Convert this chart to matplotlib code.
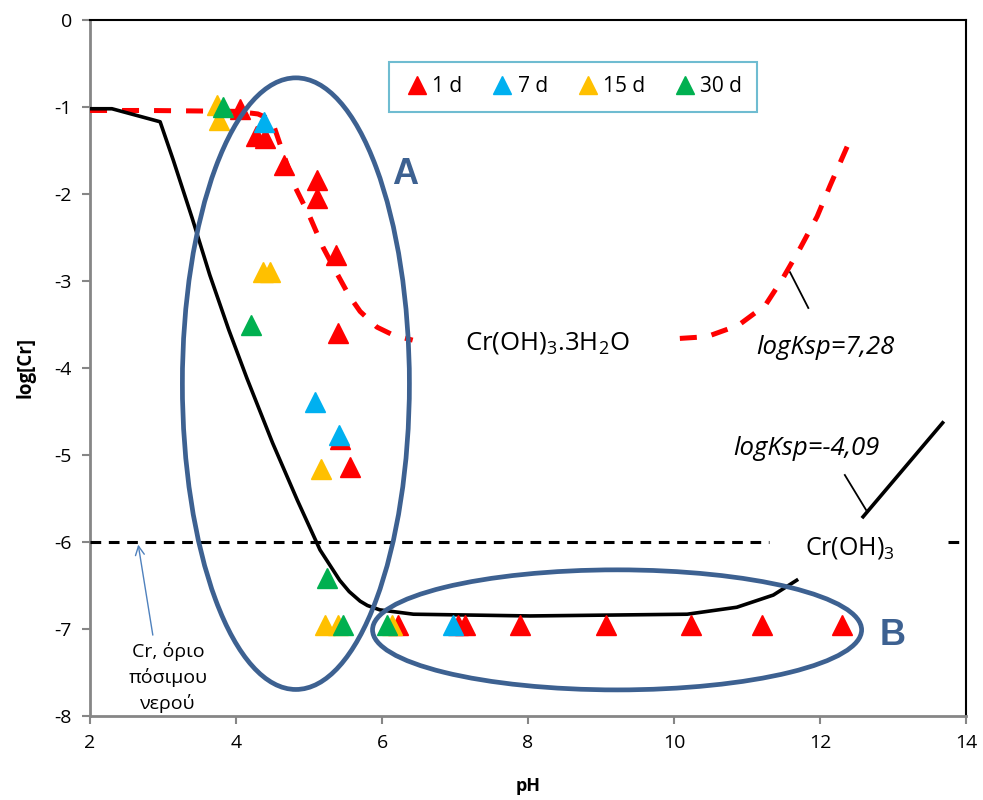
import numpy as np
import matplotlib.pyplot as plt
from matplotlib.patches import Ellipse

plt.rcParams['font.family'] = ['Open Sans', 'DejaVu Sans']
plt.rcParams['mathtext.fontset'] = 'custom'
plt.rcParams['mathtext.rm'] = 'Open Sans'
plt.rcParams['axes.unicode_minus'] = False

# ---------------------------------------------------------------------------
# Data
# ---------------------------------------------------------------------------
# 1 d (red)
ph_1d = [4.05, 4.28, 4.40, 4.66, 5.11, 5.11, 5.37, 5.40, 5.43, 5.56,
         6.22, 7.04, 7.14, 7.89, 9.07, 10.23, 11.20, 12.30]
cr_1d = [-1.02, -1.33, -1.36, -1.67, -1.84, -2.05, -2.70, -3.60, -4.82, -5.14,
         -6.95, -6.95, -6.95, -6.95, -6.95, -6.95, -6.95, -6.95]
# 7 d (blue)
ph_7d = [4.38, 5.08, 5.41, 6.97]
cr_7d = [-1.17, -4.39, -4.77, -6.95]
# 15 d (yellow)
ph_15d = [3.74, 3.76, 4.37, 4.47, 5.16, 5.22, 5.40, 6.14]
cr_15d = [-0.98, -1.15, -2.90, -2.90, -5.16, -6.95, -6.95, -6.95]
# 30 d (green)
ph_30d = [3.82, 4.21, 5.25, 5.47, 6.07]
cr_30d = [-1.00, -3.50, -6.41, -6.95, -6.95]

# Cr(OH)3.3H2O solubility curve (red dashed), two visible parts
hyd_ph_a = [2.0, 2.8, 4.0, 4.30, 4.49, 4.64, 4.81, 5.01, 5.19, 5.38, 5.55,
            5.70, 5.93, 6.15, 6.42]
hyd_cr_a = [-1.04, -1.04, -1.05, -1.08, -1.15, -1.52, -1.92, -2.26, -2.61, -2.91,
            -3.17, -3.35, -3.53, -3.62, -3.68]
hyd_ph_b = [10.08, 10.45, 10.88, 11.25, 11.49, 11.73, 11.96, 12.14, 12.38]
hyd_cr_b = [-3.66, -3.64, -3.51, -3.28, -2.97, -2.62, -2.26, -1.90, -1.44]

# Cr(OH)3 solubility curve (black), two visible parts
oh_ph_a = [2.0, 2.3, 2.96, 3.14, 3.40, 3.64, 3.90, 4.15, 4.50, 4.84, 5.15,
           5.42, 5.55, 5.70, 5.80, 5.97, 6.43, 8.03, 10.18, 10.86, 11.36, 11.68]
oh_cr_a = [-1.02, -1.02, -1.17, -1.61, -2.28, -2.93, -3.56, -4.12, -4.86, -5.52,
           -6.09, -6.44, -6.57, -6.68, -6.73, -6.78, -6.83, -6.85, -6.83, -6.75,
           -6.61, -6.44]
oh_ph_b = [12.59, 13.68]
oh_cr_b = [-5.71, -4.63]

# drinking water limit
limit_cr = -6.0

# ---------------------------------------------------------------------------
fig = plt.figure(figsize=(9.83, 8.0), dpi=100)
ax = fig.add_axes([0.0916, 0.105, 0.8911, 0.870])

blue_dark = '#3D6191'

red_dash = (0, (3.4, 3.0))
ax.plot(hyd_ph_a, hyd_cr_a, color='red', lw=3.6, ls=red_dash, zorder=3)
ax.plot(hyd_ph_b, hyd_cr_b, color='red', lw=3.6, ls=red_dash, zorder=3)
ax.plot(oh_ph_a, oh_cr_a, color='black', lw=2.6, zorder=3)
ax.plot(oh_ph_b, oh_cr_b, color='black', lw=2.6, zorder=3)
ax.plot([2.0, 11.3], [limit_cr, limit_cr], color='black', lw=2.2,
        ls=(0, (3.5, 2.5)), zorder=3)
ax.plot([13.75, 14.0], [limit_cr, limit_cr], color='black', lw=2.2,
        ls=(0, (3.5, 2.5)), zorder=3)

ms = 14
ax.plot(ph_1d, cr_1d, '^', color='#FF0000', ms=ms, ls='none', label='1 d', zorder=4)
ax.plot(ph_7d, cr_7d, '^', color='#00B0F0', ms=ms, ls='none', label='7 d', zorder=5)
ax.plot(ph_15d, cr_15d, '^', color='#FFC000', ms=ms, ls='none', label='15 d', zorder=5)
ax.plot(ph_30d, cr_30d, '^', color='#00B050', ms=ms, ls='none', label='30 d', zorder=6)

# grouping ellipses
ax.add_patch(Ellipse((4.82, -4.18), 3.11, 7.03, fill=False, ec=blue_dark, lw=3.4, zorder=7))
ax.add_patch(Ellipse((9.22, -7.01), 6.70, 1.38, fill=False, ec=blue_dark, lw=3.4, zorder=7))
ax.text(6.32, -1.78, 'A', color=blue_dark, fontsize=26, fontweight='bold',
        ha='center', va='center', family=['Liberation Sans'])
ax.text(13.0, -7.08, 'B', color=blue_dark, fontsize=26, fontweight='bold',
        ha='center', va='center', family=['Liberation Sans'])

# labels
ax.text(8.27, -3.71, r'Cr(OH)$_3$.3H$_2$O', fontsize=18.5, ha='center', va='center')
ax.text(12.41, -6.07, r'Cr(OH)$_3$', fontsize=18, ha='center', va='center')

ax.plot([11.59, 11.84], [-2.90, -3.31], color='black', lw=1.3, zorder=3)
ax.text(12.08, -3.76, 'logKsp=7,28', fontsize=18.5, style='italic',
        ha='center', va='center')
ax.plot([12.34, 12.63], [-5.23, -5.63], color='black', lw=1.3, zorder=3)
ax.text(11.82, -4.92, 'logKsp=-4,09', fontsize=18.5, style='italic',
        ha='center', va='center')

ax.annotate('', xy=(2.66, -6.03), xytext=(2.86, -7.07),
            arrowprops=dict(arrowstyle='->', color='#4F81BD', lw=1.0,
                            shrinkA=0, shrinkB=0, mutation_scale=16))
ax.text(3.07, -7.56, 'Cr, όριο\nπόσιμου\nνερού', fontsize=14, ha='center',
        va='center', linespacing=1.45)

ax.set_xlim(2, 14)
ax.set_ylim(-8, 0)
ax.set_xticks(np.arange(2, 15, 2))
ax.set_yticks(np.arange(-8, 1, 1))
ax.tick_params(direction='out', length=6, width=1.5, color='#868686',
               labelsize=14, pad=7)
for s in ['left', 'bottom']:
    ax.spines[s].set_color('#868686')
    ax.spines[s].set_linewidth(2)
for s in ['top', 'right']:
    ax.spines[s].set_color('black')
    ax.spines[s].set_linewidth(1.5)

ax.set_xlabel('pH', fontsize=13, fontweight='bold', labelpad=18)
ax.set_ylabel('log[Cr]', fontsize=13.5, fontweight='bold', labelpad=14)

leg = ax.legend(loc='upper left', bbox_to_anchor=(0.341, 0.94), ncol=4,
                fontsize=15, frameon=True, fancybox=False, handletextpad=0.1,
                columnspacing=1.25, borderpad=0.7, markerscale=0.9,
                handlelength=1.3, borderaxespad=0)
leg.get_frame().set_edgecolor('#4BACC6')
leg.get_frame().set_linewidth(1.5)
leg.set_zorder(10)

fig.savefig('out.png', dpi=100)
